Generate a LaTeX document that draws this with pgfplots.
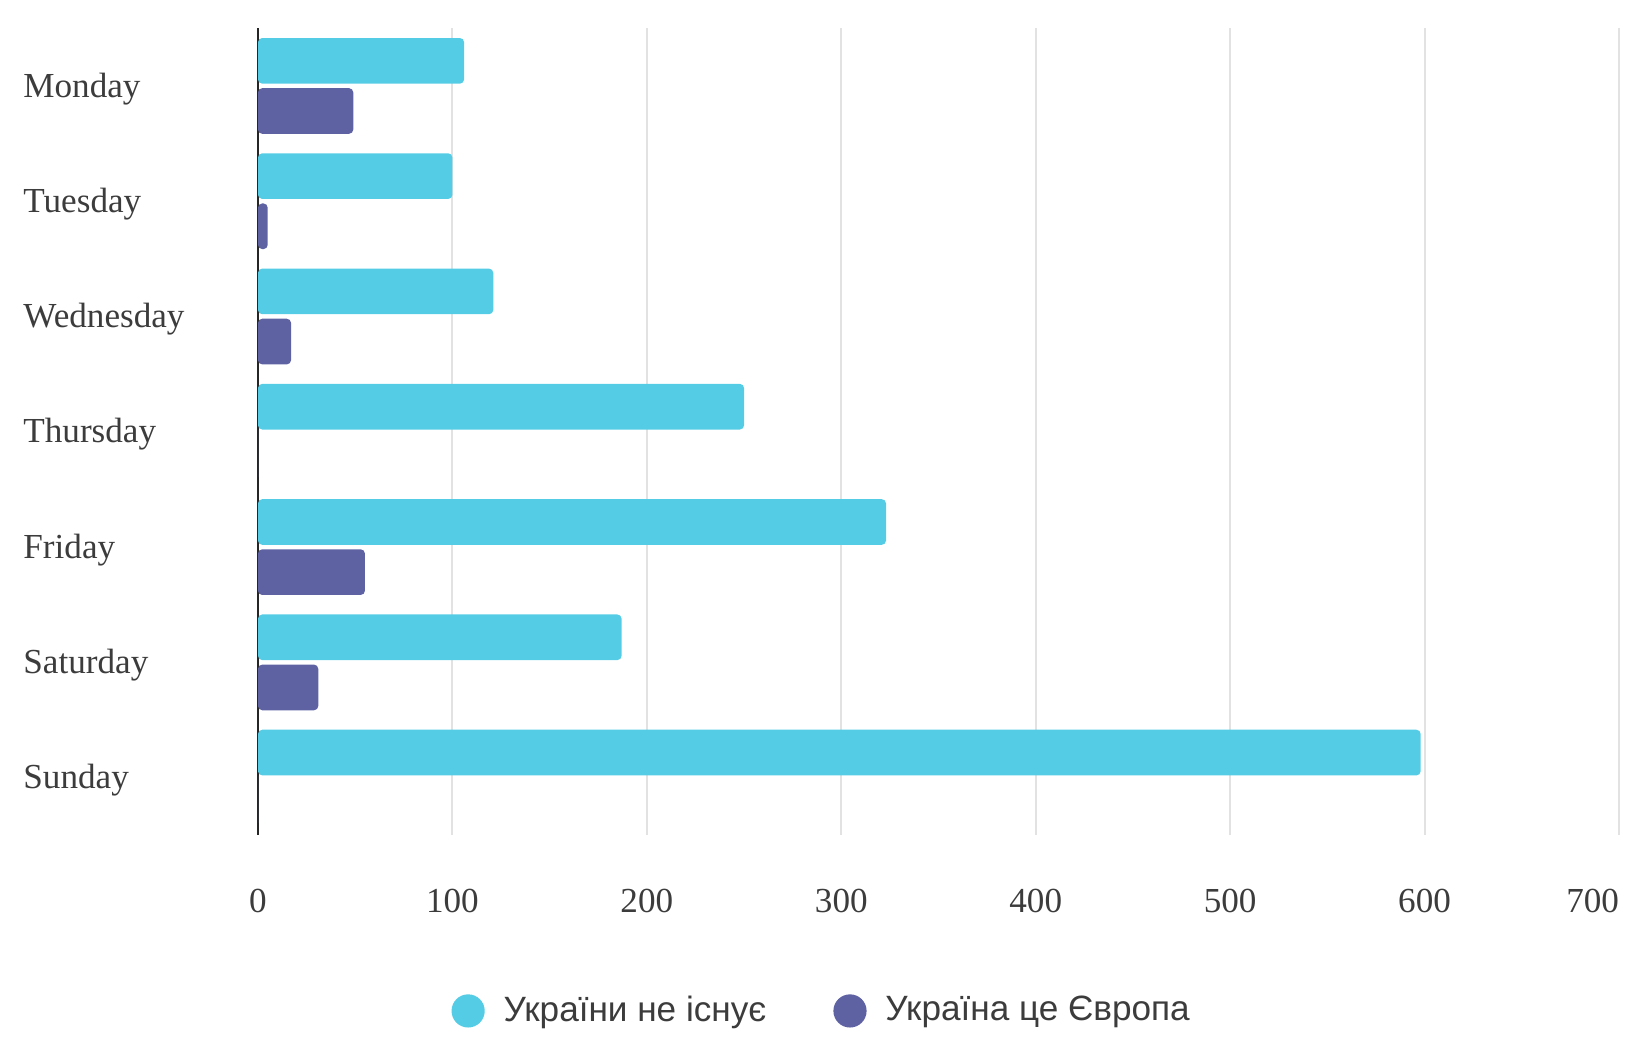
\documentclass[border=0pt]{standalone}
\usepackage{pgfplots}
\pgfplotsset{compat=1.18}
\usepackage{fontspec}
\setmainfont{Liberation Serif}
\newfontfamily\legfont{Liberation Sans}
\definecolor{cyanbar}{HTML}{55CCE5}
\definecolor{purplebar}{HTML}{5E62A3}
\definecolor{txt}{HTML}{3C3C3C}
\definecolor{gridc}{HTML}{E2E2E2}

\pgfplotstableread{
y  a    b
6  106  49
5  100  5
4  121  17
3  250  0
2  323  55
1  187  31
0  598  0
}\datatab

\begin{document}
\begin{tikzpicture}
\begin{axis}[
  at={(2.58cm,2.02cm)}, anchor=south west,
  width=13.61cm, height=8.07cm, scale only axis,
  xbar, bar width=0.396,
  xmin=0, xmax=700, ymin=-0.5, ymax=6.5,
  xtick={0,100,...,700},
  xticklabels={0,100,200,300,400,500,600,\makebox[0pt][r]{700}},
  ytick={0,...,6},
  yticklabels={Sunday,Saturday,Friday,Thursday,Wednesday,Tuesday,Monday},
  major tick length=0pt,
  axis line style={draw=none},
  xmajorgrids, grid style={gridc, line width=0.6pt},
  extra x ticks={0}, extra x tick labels={},
  extra x tick style={grid style={black!85, line width=0.8pt}},
  tick label style={font=\fontsize{10}{12}\selectfont, text=txt},
  xticklabel style={yshift=-0.42cm},
  yticklabel style={anchor=west, xshift=-2.47cm, yshift=-0.03cm},
  legend style={at={(0.416,-0.218)}, anchor=center, draw=none,
    legend columns=2, font=\legfont\fontsize{10}{12}\selectfont, text=txt,
    /tikz/every even column/.append style={column sep=0.60cm}},
  legend image code/.code={\fill[#1,draw=none] (0.166cm,0cm) circle (0.166cm);\path (0.45cm,0cm);},
]
\addplot[fill=cyanbar, draw=none, rounded corners=1.2pt, bar shift=0.215] table[x=a, y=y] {\datatab};
\addplot[fill=purplebar, draw=none, rounded corners=1.2pt, bar shift=-0.22] table[x=b, y=y] {\datatab};
\legend{України не існує, Україна це Європа}
\end{axis}
\pgfresetboundingbox
\path[use as bounding box] (0,0) rectangle (16.26cm,10.37cm);
\end{tikzpicture}
\end{document}
